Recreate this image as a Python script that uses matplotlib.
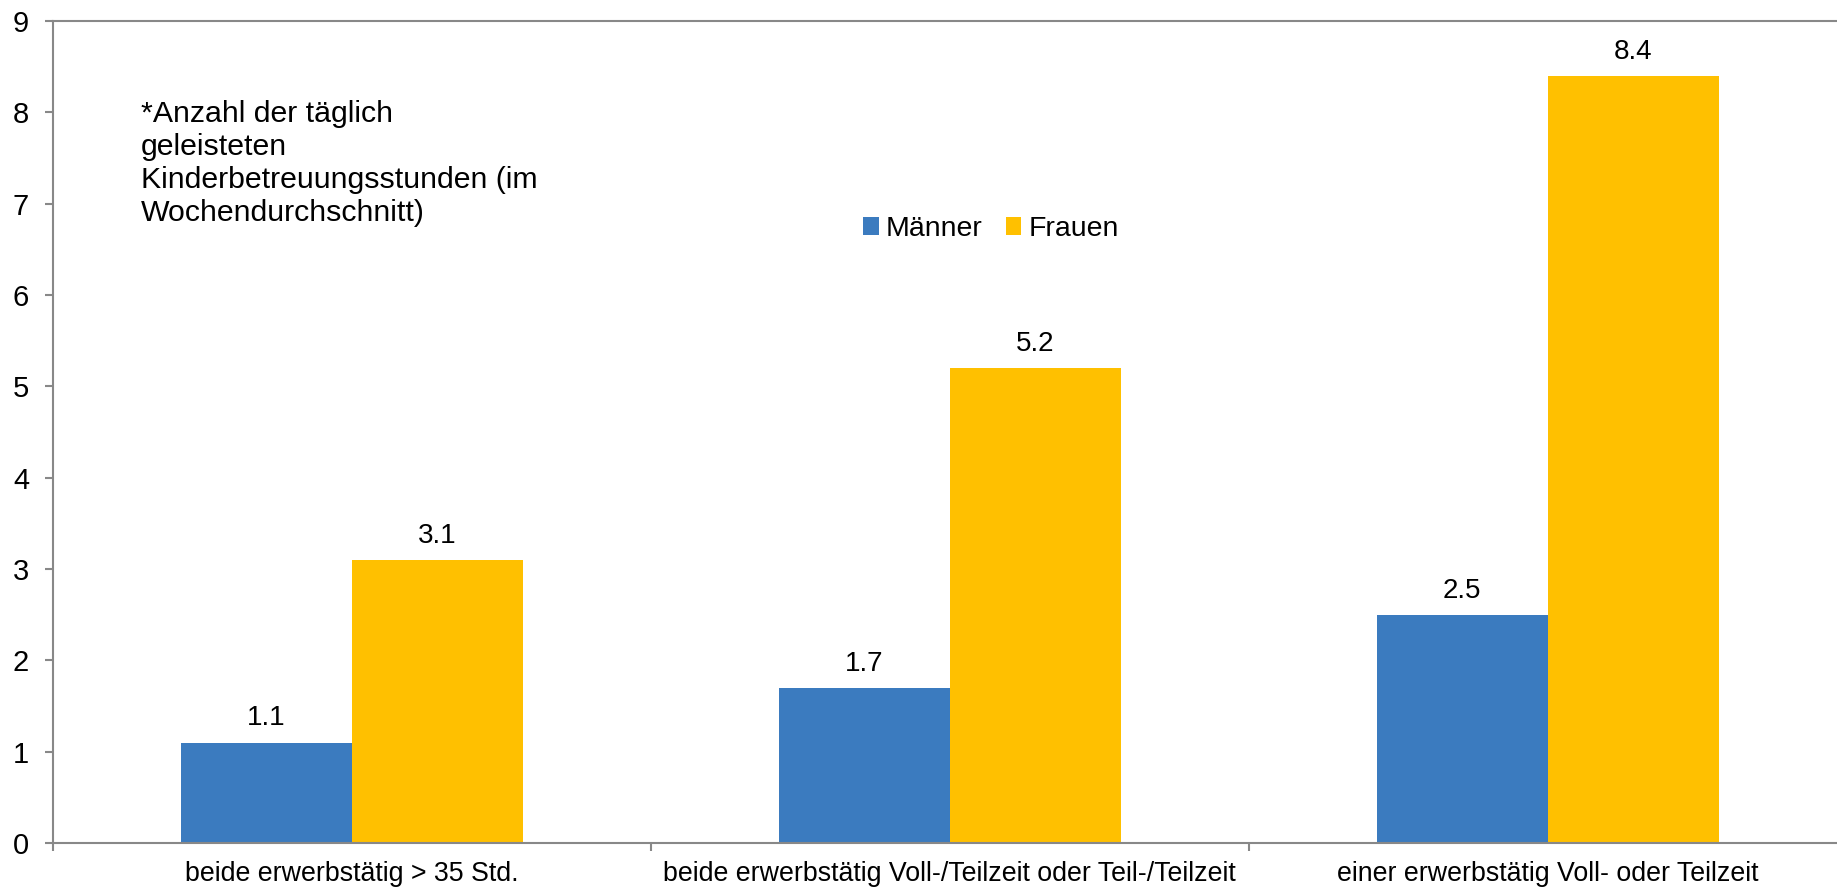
import numpy as np
import matplotlib
matplotlib.use('Agg')
import matplotlib.pyplot as plt

categories = ['beide erwerbstätig > 35 Std.',
              'beide erwerbstätig Voll-/Teilzeit oder Teil-/Teilzeit',
              'einer erwerbstätig Voll- oder Teilzeit']
maenner = [1.1, 1.7, 2.5]
frauen = [3.1, 5.2, 8.4]
series_names = ['Männer', 'Frauen']
note = '*Anzahl der täglich\ngeleisteten\nKinderbetreuungsstunden (im\nWochendurchschnitt)'

plt.rcParams['font.family'] = ['Liberation Sans', 'DejaVu Sans']
blue = '#3B7BBF'
yellow = '#FFC000'
gray = '#888888'

fig = plt.figure(figsize=(18.37, 8.88), dpi=100)
ax = fig.add_axes([0.02869, 0.0507, 0.9766, 0.9257])

x = np.arange(len(categories))
w = 0.286
b1 = ax.bar(x - w/2, maenner, w, color=blue, label=series_names[0])
b2 = ax.bar(x + w/2, frauen, w, color=yellow, label=series_names[1])

# value labels above bars
for bars, vals in [(b1, maenner), (b2, frauen)]:
    for rect, v in zip(bars, vals):
        ax.annotate('%.1f' % v, (rect.get_x() + rect.get_width()/2, v),
                    xytext=(0, 8), textcoords='offset points',
                    ha='center', va='bottom', fontsize=20)

ax.set_xlim(-0.5, 2.5)
ax.set_ylim(0, 9)
ax.set_yticks(range(0, 10))
ax.set_xticks(x)
ax.set_xticklabels(categories, fontsize=19.3)
ax.set_xticks(np.arange(-0.5, 3, 1), minor=True)
ax.tick_params(axis='x', which='major', length=0, pad=13)
ax.tick_params(axis='x', which='minor', length=6, width=1.5, color=gray, direction='out')
ax.tick_params(axis='y', length=6, width=1.5, color=gray, pad=11, labelsize=21)

for s in ['left', 'bottom', 'top']:
    ax.spines[s].set_color(gray)
    ax.spines[s].set_linewidth(1.5)
ax.spines['right'].set_visible(False)

ax.text(141, 888 - 100, note, transform=None, fontsize=21.8, va='top',
        ha='left', linespacing=1.22)

ax.legend(loc='center', bbox_to_anchor=(991 / 1837, 1 - 229 / 888),
          bbox_transform=fig.transFigure, ncol=2, frameon=False, fontsize=20.5,
          handlelength=0.55, handleheight=0.55, handletextpad=0.25,
          columnspacing=0.8)

fig.savefig('out.png', dpi=100)
